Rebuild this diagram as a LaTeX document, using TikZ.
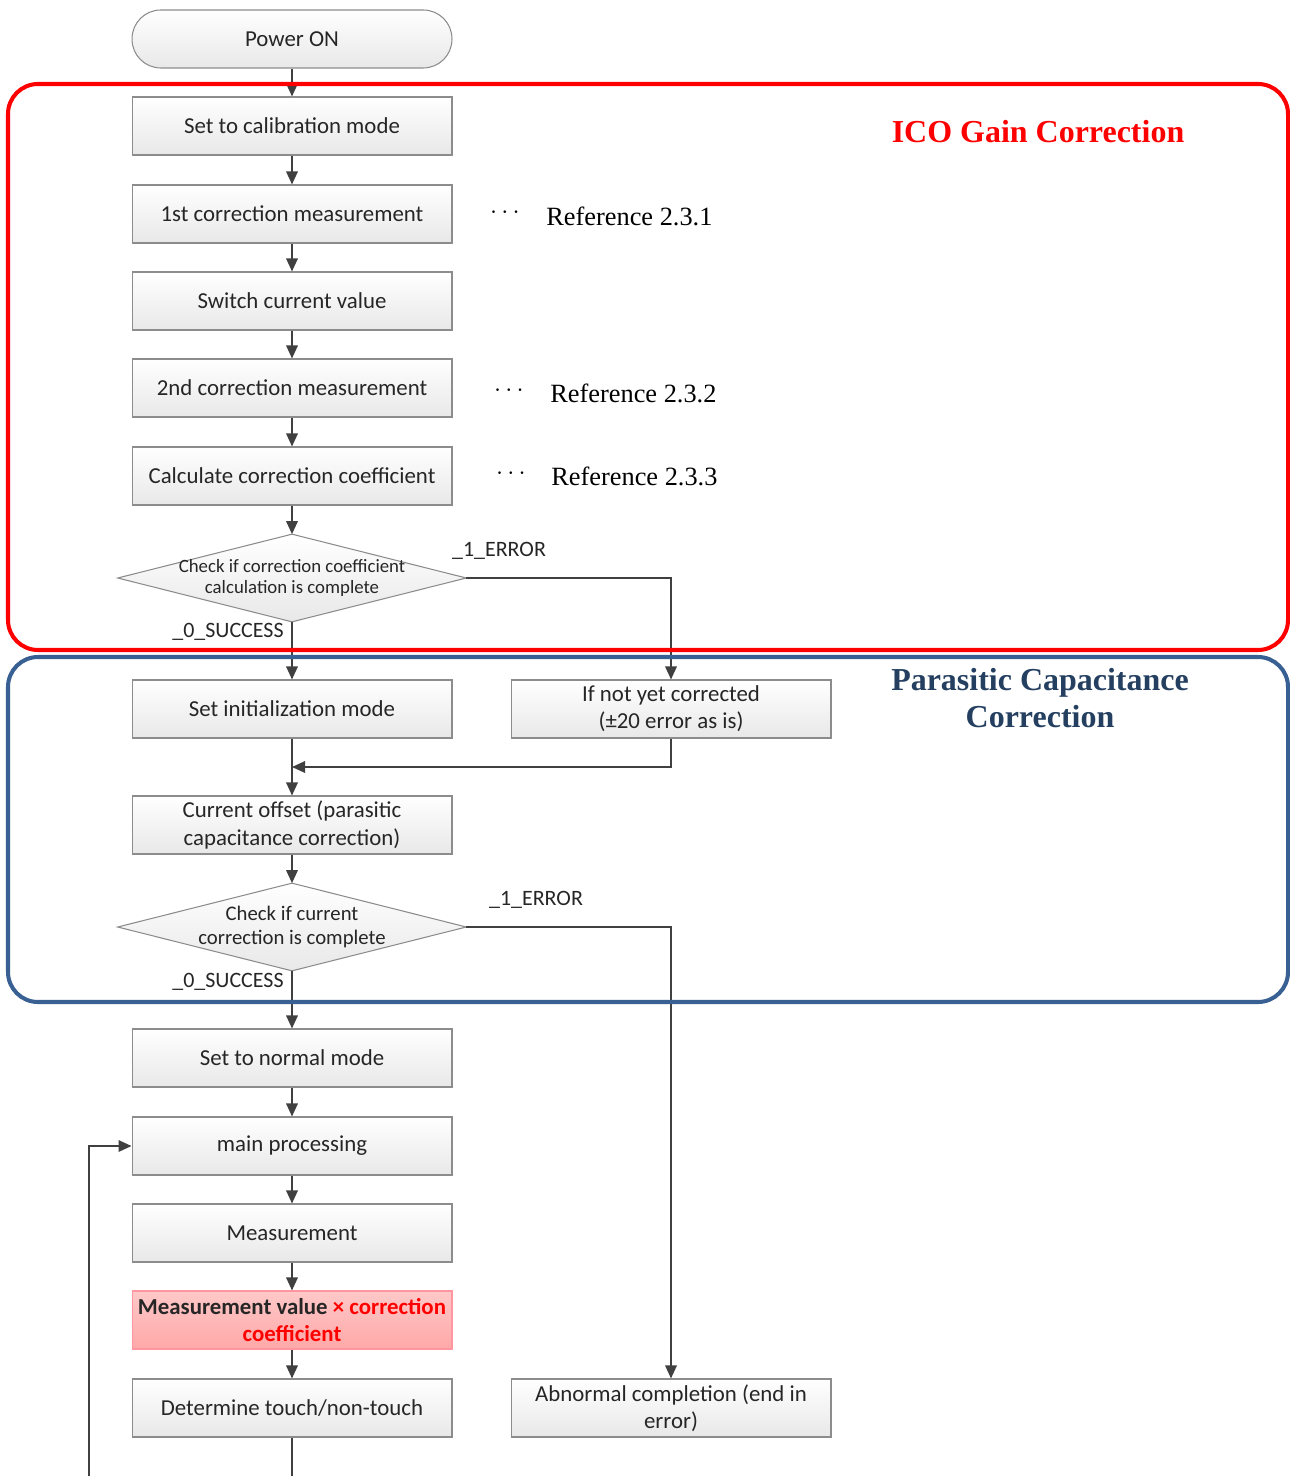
\documentclass[tikz,border=0pt]{standalone}
\usepackage{fontspec}
\setmainfont{Carlito}
\newfontfamily\timesfont{Liberation Serif}
\usetikzlibrary{arrows.meta}
\definecolor{linegray}{RGB}{64,64,64}
\definecolor{boxborder}{RGB}{140,140,140}
\definecolor{boxbot}{RGB}{232,232,232}
\definecolor{frameblue}{RGB}{56,96,146}
\definecolor{titleblue}{RGB}{36,63,96}
\definecolor{pinktop}{RGB}{255,200,200}
\definecolor{pinkbot}{RGB}{255,168,168}
\definecolor{pinkborder}{RGB}{255,150,160}
\tikzset{
  procbox/.style={draw=boxborder, line width=0.6pt, top color=white, bottom color=boxbot,
    minimum width=6.4cm, minimum height=1.16cm, inner sep=0pt, align=center,
    font=\fontsize{13}{15.5}\selectfont, text=black!85},
  pinkbox/.style={procbox, draw=pinkborder, top color=pinktop, bottom color=pinkbot},
  termbox/.style={procbox, rounded corners=0.575cm},
  diashape/.style={draw=boxborder, line width=0.6pt, top color=white, bottom color=boxbot},
  diabox/.style={minimum width=6.96cm, minimum height=1.74cm, inner sep=0pt},
  conn/.style={draw=linegray, line width=1pt, -{Triangle[length=0.26cm,width=0.23cm]}},
  plainconn/.style={draw=linegray, line width=1pt},
  lbl/.style={font=\fontsize{12.5}{15}\selectfont, text=black!85, inner sep=0pt},
  reftext/.style={font=\timesfont\fontsize{15}{18}\selectfont, inner sep=0pt, anchor=west},
  dots/.style={font=\timesfont\fontsize{15.5}{18}\selectfont, inner sep=0pt},
}
\begin{document}
\begin{tikzpicture}[x=0.02cm,y=-0.02cm]
\useasboundingbox (0,0) rectangle (1290,1476);
% nodes
\node[termbox] (pon) at (292,39) {Power ON};
\node[procbox] (cal) at (292,126) {Set to calibration mode};
\node[procbox] (m1) at (292,214) {1st correction measurement};
\node[procbox] (sw) at (292,301) {Switch current value};
\node[procbox] (m2) at (292,388) {2nd correction measurement};
\node[procbox] (cc) at (292,476) {Calculate correction coefficient};
\node[diabox] (d1) at (292,578) {};
\draw[diashape] (d1.north) -- (d1.east) -- (d1.south) -- (d1.west) -- cycle;
\node[lbl, font=\fontsize{10.7}{12.5}\selectfont, align=center] (d1t) at (292,578) {Check if correction coefficient\\[-0.5pt]calculation is complete};
\node[procbox] (init) at (292,709) {Set initialization mode};
\node[procbox] (nyc) at (671,709) {If not yet corrected\\(±20 error as is)};
\node[procbox] (off) at (292,825) {Current offset (parasitic\\capacitance correction)};
\node[diabox] (d2) at (292,927) {};
\draw[diashape] (d2.north) -- (d2.east) -- (d2.south) -- (d2.west) -- cycle;
\node[lbl, font=\fontsize{11.8}{14}\selectfont, align=center] (d2t) at (292,927) {Check if current\\correction is complete};
\node[procbox] (norm) at (292,1058) {Set to normal mode};
\node[procbox] (mainp) at (292,1146) {main processing};
\node[procbox] (meas) at (292,1233) {Measurement};
\node[pinkbox] (mv) at (292,1320) {\bfseries Measurement value \textcolor{red}{× correction}\\\bfseries\textcolor{red}{coefficient}};
\node[procbox] (det) at (292,1408) {Determine touch/non-touch};
\node[procbox] (abn) at (671,1408) {Abnormal completion (end in\\error)};
% labels
\node[lbl] (e1) at (499,551) {\_1\_ERROR};
\node[lbl] (s1) at (228,632) {\_0\_SUCCESS};
\node[lbl] (e2) at (536,900) {\_1\_ERROR};
\node[lbl] (s2) at (228,982) {\_0\_SUCCESS};
% references
\node[dots] (r1d) at (505,213) {$\cdots$};
\node[reftext] (r1) at (546,216) {Reference 2.3.1};
\node[dots] (r2d) at (509,391) {$\cdots$};
\node[reftext] (r2) at (550,393) {Reference 2.3.2};
\node[dots] (r3d) at (511,474) {$\cdots$};
\node[reftext] (r3) at (551,476) {Reference 2.3.3};
% coordinates
\coordinate (j1) at (671,578);
\coordinate (j2) at (671,767);
\coordinate (j3) at (292,767);
\coordinate (j4) at (671,927);
\coordinate (detend) at (292,1476);
\coordinate (loopstart) at (89,1476);
\coordinate (loopcorner) at (89,1146);
% connectors
\draw[conn] (pon) -- (cal);
\draw[conn] (cal) -- (m1);
\draw[conn] (m1) -- (sw);
\draw[conn] (sw) -- (m2);
\draw[conn] (m2) -- (cc);
\draw[conn] (cc) -- (d1.north);
\draw[conn] (d1.south) -- (init);
\draw[conn] (d1.east) -- (j1) -- (nyc);
\draw[conn] (init) -- (off);
\draw[conn] (nyc.south) -- (j2) -- (j3);
\draw[conn] (off) -- (d2.north);
\draw[conn] (d2.south) -- (norm);
\draw[conn] (d2.east) -- (j4) -- (abn);
\draw[conn] (norm) -- (mainp);
\draw[conn] (mainp) -- (meas);
\draw[conn] (meas) -- (mv);
\draw[conn] (mv) -- (det);
\draw[plainconn] (det) -- (detend);
\draw[conn] (loopstart) -- (loopcorner) -- (mainp.west);
% frames
\draw[red, line width=2.3pt, rounded corners=0.6cm] (8,84) rectangle (1288,650);
\draw[frameblue, line width=2.3pt, rounded corners=0.6cm] (8,657) rectangle (1288,1002);
\node[text=red, font=\timesfont\bfseries\fontsize{18.2}{22}\selectfont, inner sep=0pt] (t1) at (1038,132) {ICO Gain Correction};
\node[text=titleblue, font=\timesfont\bfseries\fontsize{18.2}{21.5}\selectfont, inner sep=0pt, align=center] (t2) at (1040,698) {Parasitic Capacitance\\Correction};
\end{tikzpicture}
\end{document}
